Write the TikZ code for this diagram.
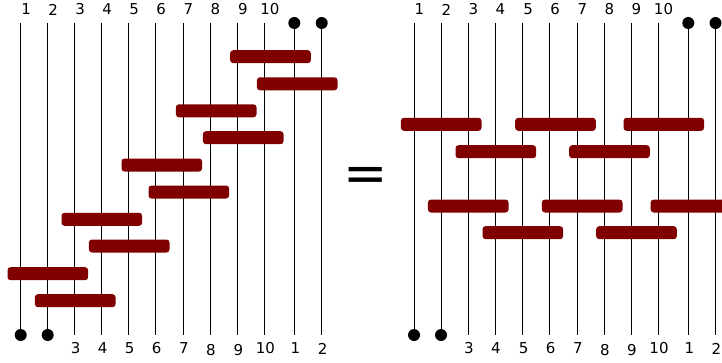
\documentclass[tikz,border=0pt]{standalone}
\usepackage{fontspec}
\setmainfont{DejaVu Sans}
\definecolor{barred}{HTML}{800000}
\begin{document}
\begin{tikzpicture}[x=1pt,y=-1pt,
  wire/.style={line width=1pt, black},
  bar/.style={fill=barred, rounded corners=3pt, minimum width=80.6pt, minimum height=13pt, inner sep=0pt, anchor=west},
  dot/.style={circle, fill=black, minimum size=12pt, inner sep=0pt},
  lbl/.style={font=\fontsize{15}{15}\selectfont, inner sep=0pt}]
\useasboundingbox (0,0) rectangle (722,362);
% ---------- left network ----------
\foreach \x [count=\i] in {20.7,47.7,74.7,101.7,128.7,155.7,183,210,237.3,264.3,294.3,321.7}{
  \coordinate (lt\i) at (\x,23);
  \coordinate (lb\i) at (\x,335);
  \draw[wire] (lt\i) -- (lb\i);
}
\foreach \x [count=\i] in {20.7,47.7,74.7,101.7,128.7,155.7,183,210,237.3,264.3}{
  \node[lbl] (ltl\i) at (\x+5.5,9.5) {\i};
}
\foreach \x/\t/\y [count=\i] in {74.7/3/348.5,101.7/4/348.5,128.7/5/348.5,155.7/6/348.5,183/7/348.5,210/8/350.5,237.3/9/350.5,264.3/10/348.5,294.3/1/348.5,321.7/2/348.5}{
  \node[lbl] (lbl\i) at (\x+1,\y) {\t};
}
\node[dot] (ld1) at (lt11) {};
\node[dot] (ld2) at (lt12) {};
\node[dot] (ld3) at (lb1) {};
\node[dot] (ld4) at (lb2) {};
\foreach \x/\y [count=\i] in {230/56.7,256.7/83.8,175.7/110.8,202.7/137.7,121.3/165,148.3/192,61.3/219.3,88.7/246,7.3/273.7,34.7/300.7}{
  \node[bar] (lbar\i) at (\x,\y) {};
}
% ---------- equals ----------
\node[font=\fontsize{53}{53}\selectfont, inner sep=0pt] (eq) at (366,179.2) {=};
% ---------- right network ----------
\foreach \x [count=\i] in {414,441,468,495,522.7,549.7,577,604,631,658,688.3,715.5}{
  \coordinate (rt\i) at (\x,23);
  \coordinate (rb\i) at (\x,335);
  \draw[wire] (rt\i) -- (rb\i);
}
\foreach \x [count=\i] in {414,441,468,495,522.7,549.7,577,604,631,658}{
  \node[lbl] (rtl\i) at (\x+5.5,9.5) {\i};
}
\foreach \x/\t/\y [count=\i] in {468/3/348.5,495/4/348.5,522.7/5/348.5,549.7/6/348.5,577/7/348.5,604/8/350.5,631/9/350.5,658/10/348.5,688.3/1/348.5,715.5/2/348.5}{
  \node[lbl] (rbl\i) at (\x+1,\y) {\t};
}
\node[dot] (rd1) at (rt11) {};
\node[dot] (rd2) at (rt12) {};
\node[dot] (rd3) at (rb1) {};
\node[dot] (rd4) at (rb2) {};
\foreach \x/\y [count=\i] in {400.7/124.3,515/124.3,623.3/124.3,455.3/151.7,569/151.7,427.7/206,541.7/206,650.5/206,482.3/232.7,596/232.7}{
  \node[bar] (rbar\i) at (\x,\y) {};
}
\end{tikzpicture}
\end{document}
